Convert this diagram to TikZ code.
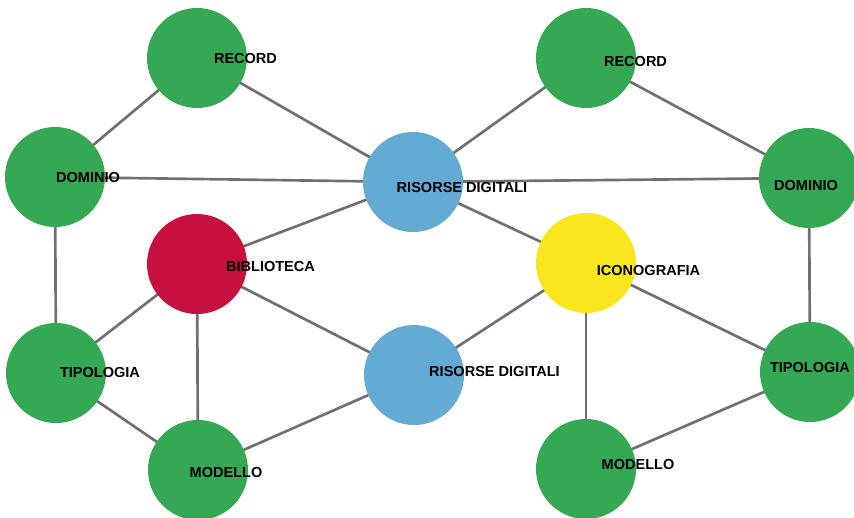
\documentclass[tikz,border=0pt]{standalone}
\usepackage{fontspec}
\setmainfont{Liberation Sans}
\usetikzlibrary{backgrounds}
\definecolor{topicgreen}{RGB}{52,168,83}
\definecolor{topicblue}{RGB}{100,171,211}
\definecolor{topicred}{RGB}{198,16,62}
\definecolor{topicyellow}{RGB}{249,230,31}
\definecolor{linkgray}{RGB}{112,112,112}
\begin{document}
\begin{tikzpicture}[x=0.75pt, y=-0.75pt]
            \tikzstyle{topic}=[circle, minimum size=75pt, inner sep=0pt]
            \tikzstyle{link}=[linkgray, line width=2pt]
            \tikzstyle{caption}=[font=\bfseries\fontsize{10.9}{12}\selectfont, inner sep=0pt]
            \useasboundingbox (0,0) rectangle (854,518);
            % circles
            \node [topic, fill=topicgreen] (recordA) at (197,58) {};
            \node [topic, fill=topicgreen] (recordB) at (586,58) {};
            \node [topic, fill=topicgreen] (dominioA) at (55,177) {};
            \node [topic, fill=topicblue] (risorseA) at (413,182) {};
            \node [topic, fill=topicgreen] (dominioB) at (809,178) {};
            \node [topic, fill=topicred] (biblioteca) at (197,264) {};
            \node [topic, fill=topicyellow] (iconografia) at (586,263) {};
            \node [topic, fill=topicgreen] (tipologiaA) at (56,373) {};
            \node [topic, fill=topicblue] (risorseB) at (414,375) {};
            \node [topic, fill=topicgreen] (tipologiaB) at (810,372) {};
            \node [topic, fill=topicgreen] (modelloA) at (198,470) {};
            \node [topic, fill=topicgreen] (modelloB) at (586,469) {};
            % links, behind the circles
            \begin{scope}[on background layer]
            \draw [link] (recordA.center) -- (dominioA.center);
            \draw [link] (recordA.center) -- (risorseA.center);
            \draw [link] (dominioA.center) -- (risorseA.center);
            \draw [link] (risorseA.center) -- (recordB.center);
            \draw [link] (recordB.center) -- (dominioB.center);
            \draw [link] (risorseA.center) -- (dominioB.center);
            \draw [link] (risorseA.center) -- (biblioteca.center);
            \draw [link] (risorseA.center) -- (iconografia.center);
            \draw [link] (dominioA.center) -- (tipologiaA.center);
            \draw [link] (biblioteca.center) -- (tipologiaA.center);
            \draw [link] (biblioteca.center) -- (modelloA.center);
            \draw [link] (biblioteca.center) -- (risorseB.center);
            \draw [link] (tipologiaA.center) -- (modelloA.center);
            \draw [link] (modelloA.center) -- (risorseB.center);
            \draw [link] (risorseB.center) -- (iconografia.center);
            \draw [link] (iconografia.center) -- (modelloB.center);
            \draw [link] (iconografia.center) -- (tipologiaB.center);
            \draw [link] (dominioB.center) -- (tipologiaB.center);
            \draw [link] (tipologiaB.center) -- (modelloB.center);
            \end{scope}
            % labels
            \node [caption] (recordAtext) at (245.5,58) {RECORD};
            \node [caption] (recordBtext) at (635.5,61) {RECORD};
            \node [caption] (dominioAtext) at (88,177) {DOMINIO};
            \node [caption] (risorseAtext) at (462,187) {RISORSE DIGITALI};
            \node [caption] (dominioBtext) at (806,185) {DOMINIO};
            \node [caption] (bibliotecatext) at (270.5,266) {BIBLIOTECA};
            \node [caption] (iconografiatext) at (648.5,270) {ICONOGRAFIA};
            \node [caption] (tipologiaAtext) at (100,372) {TIPOLOGIA};
            \node [caption] (risorseBtext) at (494.5,371) {RISORSE DIGITALI};
            \node [caption] (tipologiaBtext) at (810,367) {TIPOLOGIA};
            \node [caption] (modelloAtext) at (226,472) {MODELLO};
            \node [caption] (modelloBtext) at (638,464) {MODELLO};
        \end{tikzpicture}
\end{document}
